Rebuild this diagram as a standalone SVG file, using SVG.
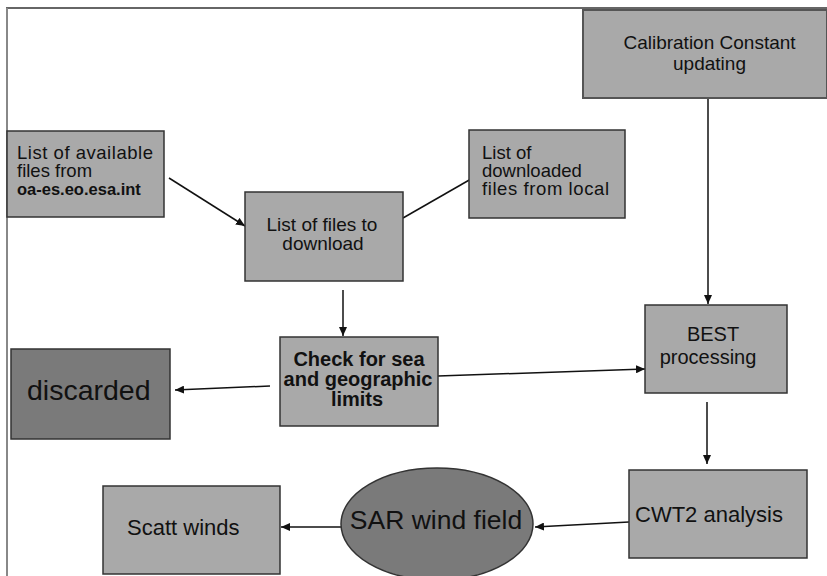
<svg xmlns="http://www.w3.org/2000/svg" width="827" height="576" viewBox="0 0 827 576">
<style>
.box{fill:#a9a9a9;stroke:#333;stroke-width:1.5}
.dark{fill:#7a7a7a;stroke:#333;stroke-width:1.5}
.t{font-family:"Liberation Sans",Arial,sans-serif;fill:#111}
.c{stroke:#111;stroke-width:1.5;fill:none}
</style>
<defs>
<marker id="ah" markerUnits="userSpaceOnUse" markerWidth="10" markerHeight="8" refX="9" refY="4" orient="auto">
<path d="M0,0 L9,4 L0,8 Z" fill="#111"/>
</marker>
</defs>
<g id="frame">
<line x1="6" y1="8" x2="827" y2="8" stroke="#333" stroke-width="1.5"/>
<line x1="7" y1="8" x2="7" y2="576" stroke="#888" stroke-width="2"/>
</g>
<g id="connectors">
<line class="c" x1="169" y1="178" x2="245" y2="226" marker-end="url(#ah)"/>
<line class="c" x1="471" y1="179" x2="403" y2="218"/>
<line class="c" x1="343" y1="290" x2="343" y2="336" marker-end="url(#ah)"/>
<line class="c" x1="708" y1="98" x2="708" y2="304" marker-end="url(#ah)"/>
<line class="c" x1="270" y1="386" x2="175" y2="390" marker-end="url(#ah)"/>
<line class="c" x1="438" y1="376" x2="645" y2="369" marker-end="url(#ah)"/>
<line class="c" x1="707" y1="402" x2="707" y2="464" marker-end="url(#ah)"/>
<line class="c" x1="629" y1="522" x2="535" y2="527" marker-end="url(#ah)"/>
<line class="c" x1="341" y1="527" x2="281" y2="527" marker-end="url(#ah)"/>
</g>
<g id="calibration">
<rect x="583" y="10" width="244" height="88" fill="#a9a9a9" stroke="#555" stroke-width="2"/>
<text class="t" font-size="19" text-anchor="middle" x="709.5" y="49">Calibration Constant</text>
<text class="t" font-size="19" text-anchor="middle" x="709.5" y="70">updating</text>
</g>
<g id="available">
<rect class="box" x="7" y="131" width="157" height="86"/>
<text class="t" font-size="18.5" x="17" y="159" textLength="136" lengthAdjust="spacing">List of available</text>
<text class="t" font-size="18.5" x="17" y="177">files from</text>
<text class="t" font-size="16.5" font-weight="bold" x="17" y="195">oa-es.eo.esa.int</text>
</g>
<g id="download">
<rect class="box" x="245" y="192" width="158" height="89"/>
<text class="t" font-size="19" text-anchor="middle" x="322" y="231">List of files to</text>
<text class="t" font-size="19" text-anchor="middle" x="323" y="250">download</text>
</g>
<g id="local">
<rect class="box" x="469" y="130" width="156" height="88"/>
<text class="t" font-size="18.5" x="482" y="159">List of</text>
<text class="t" font-size="18.5" x="482" y="177">downloaded</text>
<text class="t" font-size="18.5" x="482" y="195" textLength="127" lengthAdjust="spacing">files from local</text>
</g>
<g id="check">
<rect class="box" x="280" y="337" width="158" height="89"/>
<text class="t" font-size="20" font-weight="bold" text-anchor="middle" x="359" y="366">Check for sea</text>
<text class="t" font-size="20" font-weight="bold" text-anchor="middle" x="358" y="386">and geographic</text>
<text class="t" font-size="20" font-weight="bold" text-anchor="middle" x="357" y="406">limits</text>
</g>
<g id="discarded">
<rect class="dark" x="11" y="349" width="159" height="90"/>
<text class="t" font-size="28.5" x="27" y="400">discarded</text>
</g>
<g id="best">
<rect class="box" x="645" y="305" width="142" height="88"/>
<text class="t" font-size="20" text-anchor="middle" x="713" y="341">BEST</text>
<text class="t" font-size="20" text-anchor="middle" x="708" y="364">processing</text>
</g>
<g id="cwt2">
<rect class="box" x="629" y="470" width="178" height="88"/>
<text class="t" font-size="22" x="635" y="522">CWT2 analysis</text>
</g>
<g id="sar">
<ellipse class="dark" cx="437" cy="524" rx="96" ry="56"/>
<text class="t" font-size="26.5" text-anchor="middle" x="436" y="529">SAR wind field</text>
</g>
<g id="scatt">
<rect class="box" x="103" y="486" width="177" height="88"/>
<text class="t" font-size="22" x="127" y="535">Scatt winds</text>
</g>
</svg>
